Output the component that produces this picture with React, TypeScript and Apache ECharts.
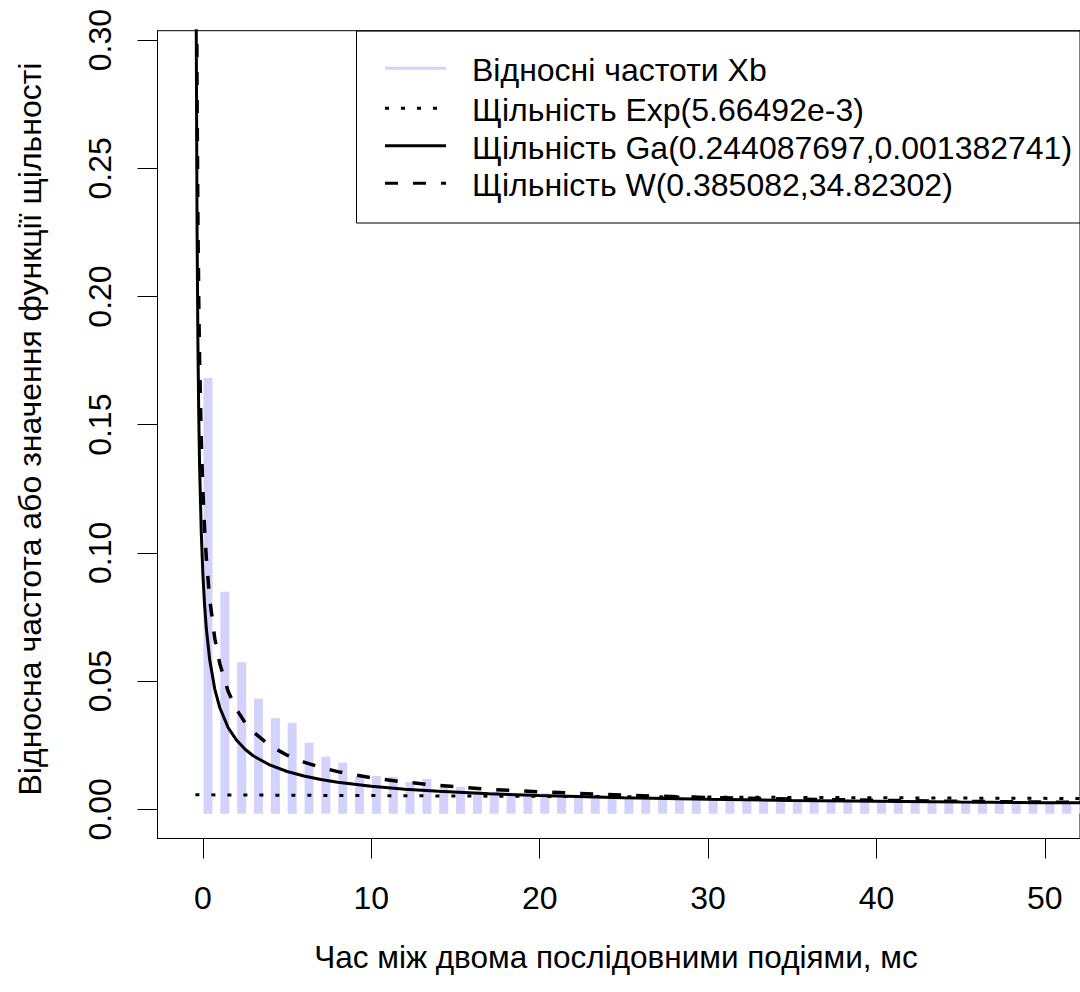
import React, { useEffect, useRef } from "react";
import * as echarts from "echarts";

// ---- data ----
const xTicks = [0, 10, 20, 30, 40, 50];
const yTicks = [0, 0.05, 0.1, 0.15, 0.2, 0.25, 0.3];

// relative frequencies Xb (bar positions in ms)
const barX = [
  0.3, 1.3, 2.3, 3.3, 4.3, 5.3, 6.3, 7.3, 8.3, 9.3, 10.3, 11.3, 12.3, 13.3, 14.3, 15.3, 16.3, 17.3,
  18.3, 19.3, 20.3, 21.3, 22.3, 23.3, 24.3, 25.3, 26.3, 27.3, 28.3, 29.3, 30.3, 31.3, 32.3, 33.3,
  34.3, 35.3, 36.3, 37.3, 38.3, 39.3, 40.3, 41.3, 42.3, 43.3, 44.3, 45.3, 46.3, 47.3, 48.3, 49.3,
  50.3, 51.3, 52.3,
];
const barFreq = [
  0.1682, 0.0848, 0.0574, 0.0431, 0.0355, 0.0338, 0.026, 0.0205, 0.0182, 0.0127, 0.013, 0.0126,
  0.0106, 0.0118, 0.0088, 0.0088, 0.0069, 0.0068, 0.0065, 0.0062, 0.0064, 0.005, 0.0055, 0.005,
  0.0045, 0.005, 0.0045, 0.004, 0.0045, 0.004, 0.0042, 0.0038, 0.004, 0.0037, 0.0035, 0.0038,
  0.0034, 0.0036, 0.0033, 0.0035, 0.0032, 0.0034, 0.003, 0.0033, 0.0031, 0.003, 0.0032, 0.0029,
  0.003, 0.0028, 0.0031, 0.0028, 0.0029,
];

// density curves (x in ms as plotted)
const curveX = [
  -0.45, -0.4, -0.35, -0.3, -0.25, -0.2, -0.1, 0, 0.1, 0.2, 0.4, 0.7, 1, 1.5, 2, 2.5, 3, 4, 5, 6, 7,
  8, 10, 12, 14, 17, 20, 25, 30, 35, 40, 45, 50, 55,
];
const gammaDensity = [
  0.519, 0.3074, 0.2262, 0.182, 0.1537, 0.1339, 0.1078, 0.091, 0.0793, 0.0706, 0.0583, 0.0469,
  0.0396, 0.0318, 0.0269, 0.0234, 0.0208, 0.0172, 0.01475, 0.013, 0.01163, 0.01057, 0.00899,
  0.00785, 0.007, 0.00605, 0.00534, 0.0045, 0.0039, 0.00346, 0.00311, 0.00283, 0.00259, 0.0024,
];
const weibullDensity = [
  0.5715, 0.364, 0.2787, 0.2302, 0.1982, 0.1753, 0.1441, 0.1236, 0.109, 0.0979, 0.082, 0.0667,
  0.0568, 0.0459, 0.0389, 0.0338, 0.0301, 0.0247, 0.0211, 0.0184, 0.0163, 0.0147, 0.0123, 0.0106,
  0.0093, 0.0078, 0.0068, 0.0055, 0.0046, 0.004, 0.0035, 0.0031, 0.0028, 0.0025,
];
const expX = [-0.45, 5, 10, 20, 30, 40, 50, 55];
const expDensity = [0.00566, 0.00549, 0.00534, 0.00504, 0.00477, 0.0045, 0.00426, 0.00414];

const seriesNames = [
  "Відносні частоти Xb",
  "Щільність Exp(5.66492e-3)",
  "Щільність Ga(0.244087697,0.001382741)",
  "Щільність W(0.385082,34.82302)",
];
const xTitle = "Час між двома послідовними подіями, мс";
const yTitle = "Відносна частота або значення функції щільності";

// ---- styling ----
const FONT = "'Liberation Sans', Arial, sans-serif";
const FS = 32;
const BAR_COLOR = "#d2d2fd";
const X_MIN = -2.7;
const X_MAX = 52.09;
const Y_MIN = -0.01139;
const Y_MAX = 0.30367;

const zip = (xs: number[], ys: number[]) => xs.map((x, i) => [x, ys[i]]);

export default function App() {
  const ref = useRef<HTMLDivElement>(null);
  useEffect(() => {
    const chart = echarts.init(ref.current!, null, { renderer: "svg" });
    const legendRows = [68.3, 108.3, 145.7, 183.3];
    const legendStyles: any[] = [
      { stroke: BAR_COLOR, lineWidth: 3 },
      { stroke: "#000", lineWidth: 3, lineDash: [4, 12] },
      { stroke: "#000", lineWidth: 3 },
      { stroke: "#000", lineWidth: 3, lineDash: [13, 15] },
    ];
    const legendGraphics: any[] = [
      {
        type: "rect",
        shape: { x: 356.5, y: 31, width: 800, height: 192 },
        style: { fill: "none", stroke: "#000", lineWidth: 1 },
        z: 100,
      },
    ];
    seriesNames.forEach((name, i) => {
      legendGraphics.push({
        type: "line",
        shape: { x1: 385, y1: legendRows[i], x2: 446, y2: legendRows[i] },
        style: { ...legendStyles[i], lineCap: "butt" },
        z: 100,
      });
      legendGraphics.push({
        type: "text",
        x: 472,
        y: legendRows[i] + 2,
        style: {
          text: name,
          font: `${FS}px ${FONT}`,
          fill: "#000",
          align: "left",
          verticalAlign: "middle",
        },
        z: 100,
      });
    });

    const option: any = {
      animation: false,
      backgroundColor: "#fff",
      grid: {
        left: 157.5,
        top: 30.7,
        right: -20,
        bottom: 153.5,
        show: true,
        borderColor: "#000",
        borderWidth: 1,
        backgroundColor: "transparent",
      },
      xAxis: {
        type: "value",
        min: X_MIN,
        max: X_MAX,
        axisLine: { show: true, onZero: false, lineStyle: { color: "#000", width: 1 } },
        axisTick: { show: true, inside: false, length: 20, customValues: xTicks, lineStyle: { color: "#000" } },
        axisLabel: {
          customValues: xTicks,
          margin: 43,
          fontSize: FS,
          fontFamily: FONT,
          color: "#000",
        },
        splitLine: { show: false },
      },
      yAxis: {
        type: "value",
        min: Y_MIN,
        max: Y_MAX,
        axisLine: { show: true, onZero: false, lineStyle: { color: "#000", width: 1 } },
        axisTick: { show: true, inside: false, length: 20, customValues: yTicks, lineStyle: { color: "#000" } },
        axisLabel: {
          customValues: yTicks,
          rotate: 90,
          margin: 42,
          fontSize: FS,
          fontFamily: FONT,
          color: "#000",
          formatter: (v: number) => v.toFixed(2),
        },
        splitLine: { show: false },
      },
      series: [
        {
          name: seriesNames[0],
          type: "custom",
          clip: true,
          data: zip(barX, barFreq),
          renderItem: (params: any, api: any) => {
            const x = api.value(0);
            const y = api.value(1);
            const top = api.coord([x, y]);
            const base = api.coord([x, 0]);
            return {
              type: "rect",
              shape: { x: top[0] - 4.5, y: top[1], width: 9, height: base[1] - top[1] + 4.5 },
              style: { fill: BAR_COLOR },
            };
          },
          z: 1,
        },
        {
          name: seriesNames[1],
          type: "line",
          data: zip(expX, expDensity),
          symbol: "none",
          clip: true,
          lineStyle: { color: "#000", width: 3, type: [4, 12], cap: "butt" },
          z: 2,
        },
        {
          name: seriesNames[2],
          type: "line",
          data: zip(curveX, gammaDensity),
          symbol: "none",
          clip: true,
          lineStyle: { color: "#000", width: 3, type: "solid" },
          z: 3,
        },
        {
          name: seriesNames[3],
          type: "line",
          data: zip(curveX, weibullDensity),
          symbol: "none",
          clip: true,
          lineStyle: { color: "#000", width: 3.5, type: [13, 15], cap: "butt" },
          z: 4,
        },
      ],
      graphic: [
        ...legendGraphics,
        {
          type: "text",
          x: 616,
          y: 957,
          style: {
            text: xTitle,
            font: `31.5px ${FONT}`,
            fill: "#000",
            align: "center",
            verticalAlign: "middle",
          },
        },
        {
          type: "text",
          x: 30,
          y: 429,
          rotation: Math.PI / 2,
          style: {
            text: yTitle,
            font: `${FS}px ${FONT}`,
            fill: "#000",
            align: "center",
            verticalAlign: "middle",
          },
        },
      ],
    };
    chart.setOption(option);
    return () => chart.dispose();
  }, []);
  return (
    <div
      ref={ref}
      style={{ position: "fixed", left: 0, top: 0, width: 1080, height: 992, background: "#fff" }}
    />
  );
}
